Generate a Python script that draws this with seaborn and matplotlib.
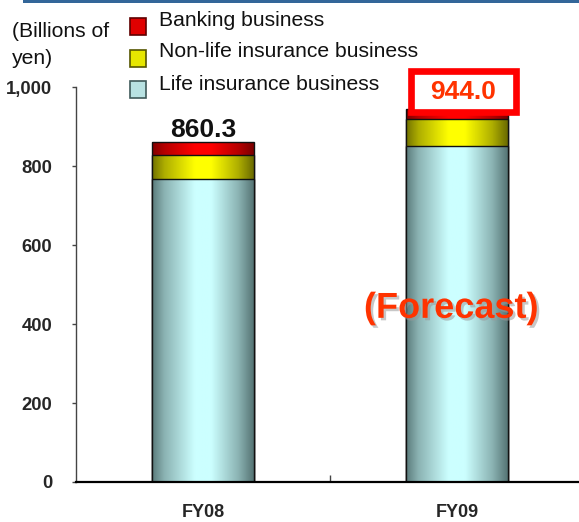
import numpy as np
import pandas as pd
import matplotlib
matplotlib.use("Agg")
import matplotlib.pyplot as plt
import matplotlib.patheffects as pe
from matplotlib.patches import Rectangle
from matplotlib.colors import to_rgb
import seaborn as sns

# Segment values (billions of yen)
years = ["FY08", "FY09"]
life = [767.0, 851.0]
nonlife = [61.5, 68.0]
banking = [31.8, 25.0]
segment_names = ["Banking business", "Non-life insurance business", "Life insurance business"]
yticks = [0, 200, 400, 600, 800, 1000]

sns.set_theme(style="white")
plt.rcParams["font.family"] = ["Liberation Sans", "DejaVu Sans"]

df = pd.DataFrame({"year": years, "life": life, "nonlife": nonlife, "banking": banking})
df["cum_nonlife"] = df["life"] + df["nonlife"]
df["total"] = df["cum_nonlife"] + df["banking"]

W, H = 579, 522
fig = plt.figure(figsize=(W / 100, H / 100), dpi=100)
ax = fig.add_axes([76 / W, 40 / H, 508 / W, (482 - 87.3) / H])

# (column, light centre colour, dark edge colour, z-order)
layers = [
    ("total", "#ff0000", "#7a0000", 2),
    ("cum_nonlife", "#ffff00", "#6a6a00", 3),
    ("life", "#ccffff", "#557474", 4),
]

prof_t = [0.0, 0.12, 0.42, 0.58, 0.85, 1.0]
prof_v = [0.05, 0.45, 1.0, 1.0, 0.45, 0.0]
tt = np.linspace(0, 1, 256)
shade = np.interp(tt, prof_t, prof_v)

for col, light, dark, z in layers:
    n_before = len(ax.patches)
    sns.barplot(data=df, x="year", y=col, order=years, width=0.4,
                color=light, saturation=1, ax=ax, errorbar=None)
    new = ax.patches[n_before:]
    lc, dc = np.array(to_rgb(light)), np.array(to_rgb(dark))
    grad = (dc[None, :] + (lc - dc)[None, :] * shade[:, None])[None, :, :]
    for p in new:
        x0, y0 = p.get_x(), p.get_y()
        x1, y1 = x0 + p.get_width(), y0 + p.get_height()
        im = ax.imshow(grad, extent=[x0, x1, y0, y1], aspect="auto",
                       interpolation="bilinear", zorder=z, origin="lower")
        im.set_clip_path(p)
        p.set_facecolor("none")
        p.set_edgecolor("#111111")
        p.set_linewidth(1.0)
        p.set_zorder(z + 0.1)

ax.set_xlim(-0.5, 1.5)
ax.set_ylim(0, 1000)
ax.set_xlabel("")
ax.set_ylabel("")

# Axes styling
for s in ["top", "right"]:
    ax.spines[s].set_visible(False)
ax.spines["left"].set_color("#444444")
ax.spines["left"].set_linewidth(1.0)
ax.spines["bottom"].set_color("#000000")
ax.spines["bottom"].set_linewidth(1.6)
ax.spines["bottom"].set_zorder(10)

ax.set_yticks(yticks)
ax.set_yticklabels([f"{v:,}" for v in yticks], fontsize=13.3, fontweight="bold")
ax.tick_params(axis="y", direction="out", length=3, width=1, color="#444444", pad=14, left=True)
ax.set_xticks([0, 1])
ax.set_xticklabels(years, fontsize=13, fontweight="bold")
ax.tick_params(axis="x", length=0, pad=16)
ax.set_xticks([0.5], minor=True)
ax.tick_params(axis="x", which="minor", direction="in", length=5, width=1, color="#444444", bottom=True)

# Total labels
totals = df["total"].tolist()
ax.annotate(f"{totals[0]:.1f}", xy=(0, totals[0]), xytext=(0, 3.6), textcoords="offset points",
            ha="center", va="baseline", fontsize=19, fontweight="bold", color="#111111", zorder=12)

box_cx, box_cy = 1.025, totals[1] + 46
ax.add_patch(Rectangle((box_cx - 0.2065, box_cy - 52), 0.413, 104, facecolor="white",
                       edgecolor="#ff0000", linewidth=4.8, zorder=11, clip_on=False))
ax.text(box_cx, box_cy - 1, f"{totals[1]:.1f}", ha="center", va="center",
        fontsize=19, fontweight="bold", color="#ff3300", zorder=12, clip_on=False)

ax.text(0.977, 440, "(Forecast)", ha="center", va="center", fontsize=26, fontweight="bold",
        color="#ff3300", zorder=12,
        path_effects=[pe.SimplePatchShadow(offset=(1.8, -1.8), shadow_rgbFace="#999999", alpha=0.55),
                      pe.Normal()])

# Header band
fig.patches.append(Rectangle((23 / W, 1 - 3 / H), 1, 3 / H, transform=fig.transFigure,
                             facecolor="#336699", edgecolor="none", zorder=5))

# Unit label
fig.text(12 / W, 1 - 31 / H, "(Billions of", fontsize=15.2, ha="left", va="center", color="#111111")
fig.text(12 / W, 1 - 58 / H, "yen)", fontsize=15.2, ha="left", va="center", color="#111111")

# Legend
leg_colors = [("#e00000", "#600000"), ("#e6e600", "#555500"), ("#b8e2e2", "#3f5a5a")]
leg_text_y = [20.5, 51.5, 84.5]
leg_box_y = [26.5, 58.5, 89.5]
for name, (fc, ec), ty, by in zip(segment_names, leg_colors, leg_text_y, leg_box_y):
    fig.patches.append(Rectangle((130 / W, 1 - (by + 8) / H), 16 / W, 16 / H,
                                 transform=fig.transFigure, facecolor=fc,
                                 edgecolor=ec, linewidth=1.2, zorder=5))
    fig.text(159 / W, 1 - ty / H, name, fontsize=15.2, ha="left", va="center", color="#111111")

fig.savefig("out.png", dpi=100)
